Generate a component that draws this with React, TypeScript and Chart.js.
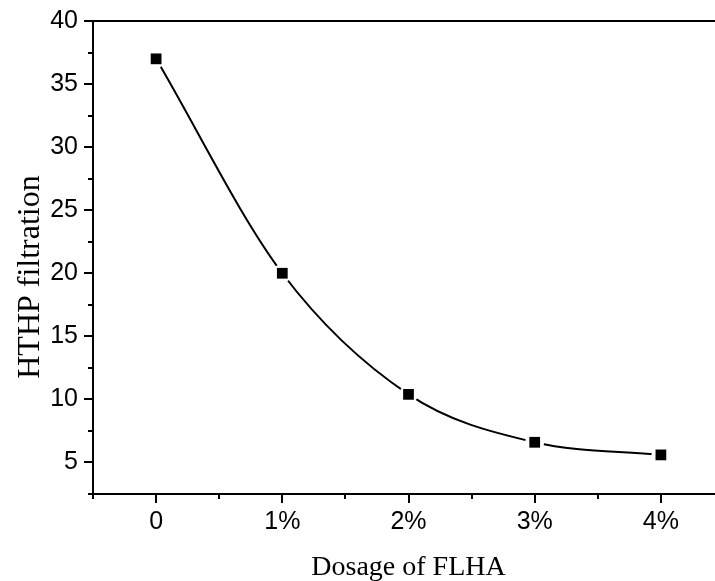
import React, { useEffect, useRef } from "react";
import { Chart, registerables } from "chart.js";

Chart.register(...registerables);

// ---- data ----
const xValues = [0, 1, 2, 3, 4];
const xTickLabels = ["0", "1%", "2%", "3%", "4%"];
const filtration = [37, 20, 10.4, 6.6, 5.6];
const yMajorTicks = [5, 10, 15, 20, 25, 30, 35, 40];
const xTitle = "Dosage of FLHA";
const yTitle = "HTHP filtration";

const SHIFT = 9; // canvas is shifted up by this many px
const CANVAS_W = 740;
const CANVAS_H = 581 + SHIFT;

const axesPlugin = {
  id: "originAxes",
  afterDraw(chart: any) {
    const { ctx, chartArea, scales } = chart;
    const xs = scales.x;
    const ys = scales.y;
    ctx.save();
    ctx.strokeStyle = "#000";
    ctx.lineWidth = 2;
    ctx.lineCap = "butt";
    // axis lines
    ctx.beginPath();
    ctx.moveTo(chartArea.left, chartArea.top);
    ctx.lineTo(chartArea.left, chartArea.bottom + 1);
    ctx.moveTo(chartArea.left - 1, chartArea.bottom);
    ctx.lineTo(chartArea.right, chartArea.bottom);
    ctx.moveTo(chartArea.left - 1, chartArea.top);
    ctx.lineTo(chartArea.right, chartArea.top);
    ctx.stroke();
    // x ticks
    ctx.beginPath();
    xs.ticks.forEach((t: any) => {
      const px = Math.round(xs.getPixelForValue(t.value));
      const major = xValues.includes(t.value);
      ctx.moveTo(px, chartArea.bottom);
      ctx.lineTo(px, chartArea.bottom + (major ? 9 : 5));
    });
    // y ticks
    ys.ticks.forEach((t: any) => {
      const py = Math.round(ys.getPixelForValue(t.value));
      const major = yMajorTicks.includes(t.value);
      ctx.moveTo(chartArea.left, py);
      ctx.lineTo(chartArea.left - (major ? 9 : 5), py);
    });
    ctx.stroke();
    // titles
    ctx.fillStyle = "#000";
    ctx.font = '28px "Liberation Serif", "Times New Roman", serif';
    ctx.textAlign = "center";
    ctx.textBaseline = "alphabetic";
    ctx.fillText(xTitle, (chartArea.left + chartArea.right) / 2, 575 + SHIFT);
    ctx.translate(39, 277 + SHIFT);
    ctx.rotate(-Math.PI / 2);
    ctx.font = '32px "Liberation Serif", "Times New Roman", serif';
    ctx.fillText(yTitle, 0, 0);
    ctx.restore();
  },
};

export default function App() {
  const canvasRef = useRef<HTMLCanvasElement | null>(null);

  useEffect(() => {
    if (!canvasRef.current) return;
    const pts = xValues.map((x, i) => ({ x, y: filtration[i] }));
    const tickFont = { family: '"Liberation Sans", Arial, sans-serif', size: 25 };
    const chart = new Chart(canvasRef.current, {
      type: "line",
      data: {
        datasets: [
          {
            label: "curve",
            data: pts,
            borderColor: "#000",
            borderWidth: 2,
            pointRadius: 0,
            cubicInterpolationMode: "monotone",
            fill: false,
            order: 3,
          },
          {
            label: "halo",
            data: pts,
            showLine: false,
            pointStyle: "circle",
            pointRadius: 9.5,
            pointBackgroundColor: "#fff",
            pointBorderWidth: 0,
            order: 2,
          },
          {
            label: "markers",
            data: pts,
            showLine: false,
            pointStyle: "rect",
            pointRadius: 7.6,
            pointBackgroundColor: "#000",
            pointBorderWidth: 0,
            order: 1,
          },
        ],
      } as any,
      options: {
        responsive: false,
        animation: false,
        devicePixelRatio: 1,
        events: [],
        layout: { padding: { top: 7, right: 16, left: 0, bottom: 0 } },
        plugins: { legend: { display: false }, tooltip: { enabled: false } },
        scales: {
          x: {
            type: "linear",
            min: -0.5,
            max: 4.5,
            grid: { display: false, drawTicks: false },
            border: { display: false },
            ticks: {
              stepSize: 0.5,
              autoSkip: false,
              maxRotation: 0,
              color: "#000",
              font: tickFont,
              padding: 13,
              callback: (v: any) => {
                const i = xValues.indexOf(Number(v));
                return i >= 0 ? xTickLabels[i] : "";
              },
            },
            afterFit: (s: any) => {
              s.height = 581 - 494;
            },
          },
          y: {
            type: "linear",
            min: 2.5,
            max: 40,
            grid: { display: false, drawTicks: false },
            border: { display: false },
            ticks: {
              stepSize: 2.5,
              autoSkip: false,
              color: "#000",
              font: tickFont,
              padding: 15,
              callback: (v: any) => (yMajorTicks.includes(Number(v)) ? String(v) : ""),
            },
            afterFit: (s: any) => {
              s.width = 93;
            },
          },
        },
      } as any,
      plugins: [axesPlugin],
    });
    return () => chart.destroy();
  }, []);

  return (
    <div
      style={{
        position: "absolute",
        left: 0,
        top: 0,
        width: 715,
        height: 581,
        overflow: "hidden",
        background: "#fff",
      }}
    >
      <canvas
        ref={canvasRef}
        width={CANVAS_W}
        height={CANVAS_H}
        style={{ display: "block", marginTop: -SHIFT }}
      />
    </div>
  );
}
